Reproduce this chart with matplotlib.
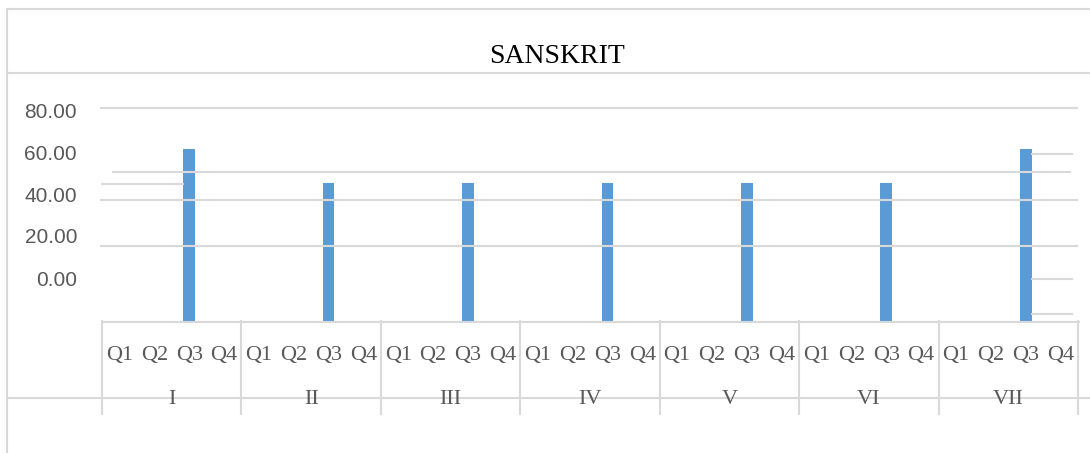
import matplotlib.pyplot as plt
from matplotlib.lines import Line2D

groups = ['I', 'II', 'III', 'IV', 'V', 'VI', 'VII']
quarters = ['Q1', 'Q2', 'Q3', 'Q4']
q3_values = [61.4, 45.2, 45.2, 45.2, 45.2, 45.2, 61.4]
y_ticks = [0, 20, 40, 60, 80]

W, H = 1090, 453
grey = '#d9d9d9'
txt = '#595959'
serif = ['Liberation Serif', 'DejaVu Serif']
sans = ['Liberation Sans', 'DejaVu Sans']

fig = plt.figure(figsize=(W / 100, H / 100), dpi=100)

def fx(x):
    return x / W

def fy(y):
    return 1 - y / H

def hline(y, x0, x1):
    fig.add_artist(Line2D([fx(x0), fx(x1)], [fy(y), fy(y)], color=grey, lw=1.5))

def vline(x, y0, y1):
    fig.add_artist(Line2D([fx(x), fx(x)], [fy(y0), fy(y1)], color=grey, lw=1.5))

# plot area (pixel box of the reference)
ax_l, ax_r, ax_t, ax_b = 102, 1078, 99.5, 321
ax = fig.add_axes([fx(ax_l), fy(ax_b), fx(ax_r - ax_l), (ax_b - ax_t) / H])
ylo = (278 - ax_b) / 2.1
ax.set_ylim(ylo, (278 - ax_t) / 2.1)
ax.set_xlim(-0.5, len(groups) * len(quarters) - 0.5)
for s in ax.spines.values():
    s.set_visible(False)

# frame, title band, odd leftover gridlines
vline(7, 9, 453)
hline(9, 7, 1090)
hline(73, 7, 1090)
hline(108, 101, 1077)
hline(172, 113, 1070)
hline(184, 102, 183)
hline(200, 101, 1077)
hline(246, 101, 1077)
for y in [154, 279, 314]:
    hline(y, 1032, 1072)

# bars (only Q3 has data)
xs = [i * len(quarters) + 2 for i in range(len(groups))]
ax.bar(xs, [v - ylo for v in q3_values], bottom=ylo, width=0.34, color='#5b9bd5', zorder=3)

ax.set_yticks(y_ticks)
ax.set_yticklabels(['%.2f' % t for t in y_ticks], color=txt, fontsize=15, family=sans)
ax.tick_params(axis='y', length=0, pad=18)

ax.set_xticks(range(len(groups) * len(quarters)))
ax.set_xticklabels(quarters * len(groups), color=txt, fontsize=16, family=serif)
ax.tick_params(axis='x', length=0, pad=18)

# category box
hline(321.5, 102, 1079)
hline(397.5, 7, 1090)
slot = (ax_r - ax_l) / len(groups)
for i in range(len(groups) + 1):
    vline(ax_l + i * slot, 321, 414)
for i, g in enumerate(groups):
    fig.text(fx(ax_l + (i + 0.5) * slot), fy(399), g, ha='center', va='center',
             color=txt, fontsize=16, family=serif)

fig.text(fx(557), fy(56.5), 'SANSKRIT', ha='center', va='center',
         color='black', fontsize=20, family=serif)

fig.savefig('out.png', dpi=100)
